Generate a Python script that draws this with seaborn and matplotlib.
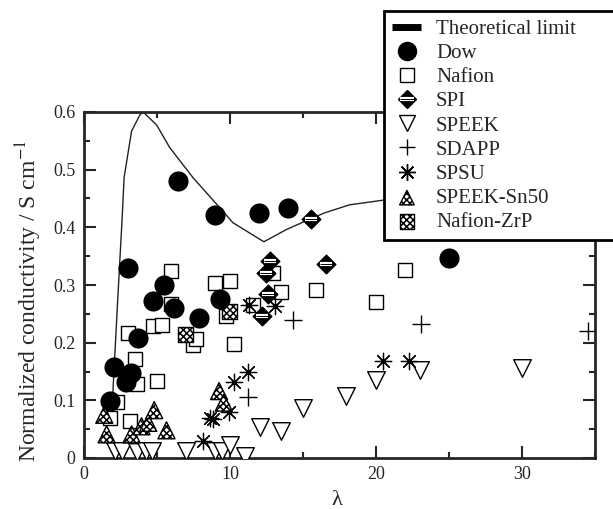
import matplotlib
matplotlib.use("Agg")
import matplotlib.pyplot as plt
import seaborn as sns
from matplotlib.lines import Line2D
from matplotlib.patches import Rectangle
from matplotlib.legend_handler import HandlerTuple
from matplotlib.ticker import MultipleLocator, FuncFormatter

sns.set_style("ticks")
plt.rcParams['font.family'] = ['Liberation Serif', 'DejaVu Serif']
plt.rcParams['mathtext.fontset'] = 'stix'
plt.rcParams['hatch.linewidth'] = 1.1

# ---- data ----
limit_x = [1.95, 2.3, 2.6, 2.75, 3.26, 3.83, 4.05, 4.96, 5.88, 7.47, 9.3, 10.2, 12.32, 13.85, 15.45, 16.47, 18.18, 20.46, 25.0, 35.0]
limit_y = [0.10, 0.27, 0.41, 0.487, 0.567, 0.595, 0.600, 0.578, 0.538, 0.486, 0.434, 0.408, 0.375, 0.396, 0.414, 0.425, 0.439, 0.447, 0.46, 0.48]

dow_x = [1.78, 2.07, 2.87, 2.99, 3.21, 3.71, 4.76, 5.49, 6.17, 6.45, 7.88, 8.95, 9.30, 11.98, 13.96, 24.97]
dow_y = [0.099, 0.157, 0.131, 0.330, 0.148, 0.208, 0.272, 0.300, 0.260, 0.481, 0.243, 0.422, 0.275, 0.424, 0.434, 0.347]

nafion_x = [1.78, 2.23, 3.03, 3.14, 3.49, 3.60, 4.74, 4.97, 5.31, 5.99, 5.99, 7.47, 7.66, 8.95, 9.75, 9.98, 10.28, 11.6, 12.95, 13.51, 15.9, 20.0, 21.98]
nafion_y = [0.070, 0.097, 0.217, 0.064, 0.171, 0.128, 0.229, 0.133, 0.231, 0.324, 0.267, 0.196, 0.206, 0.304, 0.246, 0.307, 0.198, 0.266, 0.321, 0.287, 0.291, 0.270, 0.326]

spi_x = [12.21, 12.44, 12.6, 12.71, 15.56, 16.59]
spi_y = [0.246, 0.321, 0.284, 0.342, 0.414, 0.336]

speek_x = [2.12, 2.57, 3.65, 4.24, 4.63, 7.02, 8.95, 9.45, 9.98, 11.0, 12.03, 13.47, 14.99, 17.96, 20.0, 23.0, 30.03]
speek_y = [0.012, 0.012, 0.010, 0.012, 0.012, 0.012, 0.012, 0.012, 0.022, 0.004, 0.053, 0.047, 0.087, 0.108, 0.136, 0.152, 0.156]

sdapp_x = [11.23, 14.31, 23.08, 34.54]
sdapp_y = [0.106, 0.240, 0.233, 0.221]

spsu_x = [8.16, 8.65, 8.85, 9.9, 10.25, 11.23, 11.3, 13.05, 20.46, 22.28]
spsu_y = [0.030, 0.070, 0.067, 0.079, 0.132, 0.150, 0.265, 0.264, 0.169, 0.168]

sn50_x = [1.39, 1.55, 3.26, 3.94, 4.4, 4.81, 5.65, 9.25, 9.57]
sn50_y = [0.075, 0.041, 0.041, 0.055, 0.061, 0.083, 0.048, 0.116, 0.096]

zrp_x = [6.97, 9.98]
zrp_y = [0.214, 0.254]

x_ticks = [0, 10, 20, 30]
y_ticks = [0, 0.1, 0.2, 0.3, 0.4, 0.5, 0.6]
labels = ['Theoretical limit', 'Dow', 'Nafion', 'SPI', 'SPEEK', 'SDAPP', 'SPSU', 'SPEEK-Sn50', 'Nafion-ZrP']

# ---- figure ----
fig = plt.figure(figsize=(6.13, 5.09), dpi=100)
ax = fig.add_axes([84/613, 51/509, (595-84)/613, (458-112)/509])

sns.lineplot(x=limit_x, y=limit_y, ax=ax, color='#222222', lw=1.0, sort=False, zorder=2)

sns.scatterplot(x=nafion_x, y=nafion_y, ax=ax, marker='s', s=110, facecolor='white',
                edgecolor='black', linewidth=1.0, zorder=3)
sns.scatterplot(x=zrp_x, y=zrp_y, ax=ax, marker='s', s=110, facecolor='white',
                edgecolor='black', linewidth=1.0, hatch='xxxxx', zorder=3)
c_zrp = ax.collections[-1]
sns.scatterplot(x=speek_x, y=speek_y, ax=ax, marker='v', s=160, facecolor='white',
                edgecolor='black', linewidth=1.0, zorder=3)
sns.scatterplot(x=sdapp_x, y=sdapp_y, ax=ax, marker='+', s=150, color='black',
                linewidth=1.0, zorder=4)
sns.scatterplot(x=spsu_x, y=spsu_y, ax=ax, marker=(8, 2, 0), s=140, color='black',
                linewidth=0.9, zorder=4)
sns.scatterplot(x=spsu_x, y=spsu_y, ax=ax, marker='o', s=8, color='black',
                linewidth=0, zorder=4)
sns.scatterplot(x=sn50_x, y=sn50_y, ax=ax, marker='^', s=150, facecolor='white',
                edgecolor='black', linewidth=1.0, hatch='xxxxx', zorder=4)
c_sn50 = ax.collections[-1]
sns.scatterplot(x=spi_x, y=spi_y, ax=ax, marker='D', s=90, color='black',
                edgecolor='black', linewidth=1.0, zorder=5)
sns.scatterplot(x=spi_x, y=spi_y, ax=ax, marker='_', s=70, color='white',
                linewidth=3.0, zorder=5)
sns.scatterplot(x=spi_x, y=spi_y, ax=ax, marker='_', s=70, color='black',
                linewidth=0.7, zorder=5)
sns.scatterplot(x=dow_x, y=dow_y, ax=ax, marker='o', s=210, color='black',
                edgecolor='black', linewidth=0, zorder=6)

ax.set_xlim(0, 35)
ax.set_ylim(0, 0.6)
ax.set_xticks(x_ticks)
ax.set_yticks(y_ticks)
ax.xaxis.set_minor_locator(MultipleLocator(5))
ax.yaxis.set_minor_locator(MultipleLocator(0.05))
ax.yaxis.set_major_formatter(FuncFormatter(lambda v, p: '0' if abs(v) < 1e-9 else f'{v:.1f}'))
ax.tick_params(which='both', direction='in', top=True, right=True, width=1.5, labelsize=13, pad=6)
ax.tick_params(which='major', length=8.6)
ax.tick_params(which='minor', length=4)
for sp in ax.spines.values():
    sp.set_linewidth(2.0)
    sp.set_visible(True)
ax.set_xlabel('λ', fontsize=16)
ax.xaxis.set_label_coords(0.495, -0.095)
ax.set_ylabel('Normalized conductivity / S cm$^{-1}$', fontsize=17)
ax.yaxis.set_label_coords(-0.078, 0.455)

# legend box (runs past the right edge of the figure, as in the original)
box = Rectangle((384/613, 1 - 240/509), 0.5, (240-11)/509, transform=fig.transFigure,
                facecolor='white', edgecolor='black', linewidth=2.0, zorder=4, clip_on=False)
fig.patches.append(box)

h_line = Line2D([], [], color='black', lw=5, solid_capstyle='butt')
h_dow = Line2D([], [], marker='o', ls='none', color='black', markersize=13)
h_naf = Line2D([], [], marker='s', ls='none', mfc='white', mec='black', markersize=10)
h_spi = (Line2D([], [], marker='D', ls='none', color='black', markersize=9.5),
         Line2D([], [], marker='_', ls='none', color='white', markersize=9.5, mew=3),
         Line2D([], [], marker='_', ls='none', color='black', markersize=9.5, mew=0.7))
h_speek = Line2D([], [], marker='v', ls='none', mfc='white', mec='black', markersize=11)
h_sdapp = Line2D([], [], marker='+', ls='none', color='black', markersize=12)
h_spsu = (Line2D([], [], marker=(8, 2, 0), ls='none', color='black', markersize=12),
          Line2D([], [], marker='o', ls='none', color='black', markersize=3))
handles = [h_line, h_dow, h_naf, h_spi, h_speek, h_sdapp, h_spsu, c_sn50, c_zrp]
leg = fig.legend(handles, labels, loc='upper left', bbox_to_anchor=(384/613, 1 - 11/509),
                 fontsize=15, frameon=False,
                 borderpad=0.4, labelspacing=0.22, handlelength=1.4, handletextpad=0.7,
                 borderaxespad=0, scatterpoints=1,
                 handler_map={tuple: HandlerTuple(ndivide=1, pad=0)})
leg.set_zorder(5)
for h in leg.legend_handles:
    if hasattr(h, 'set_sizes'):
        h.set_sizes([110])

fig.savefig('out.png', dpi=100)
